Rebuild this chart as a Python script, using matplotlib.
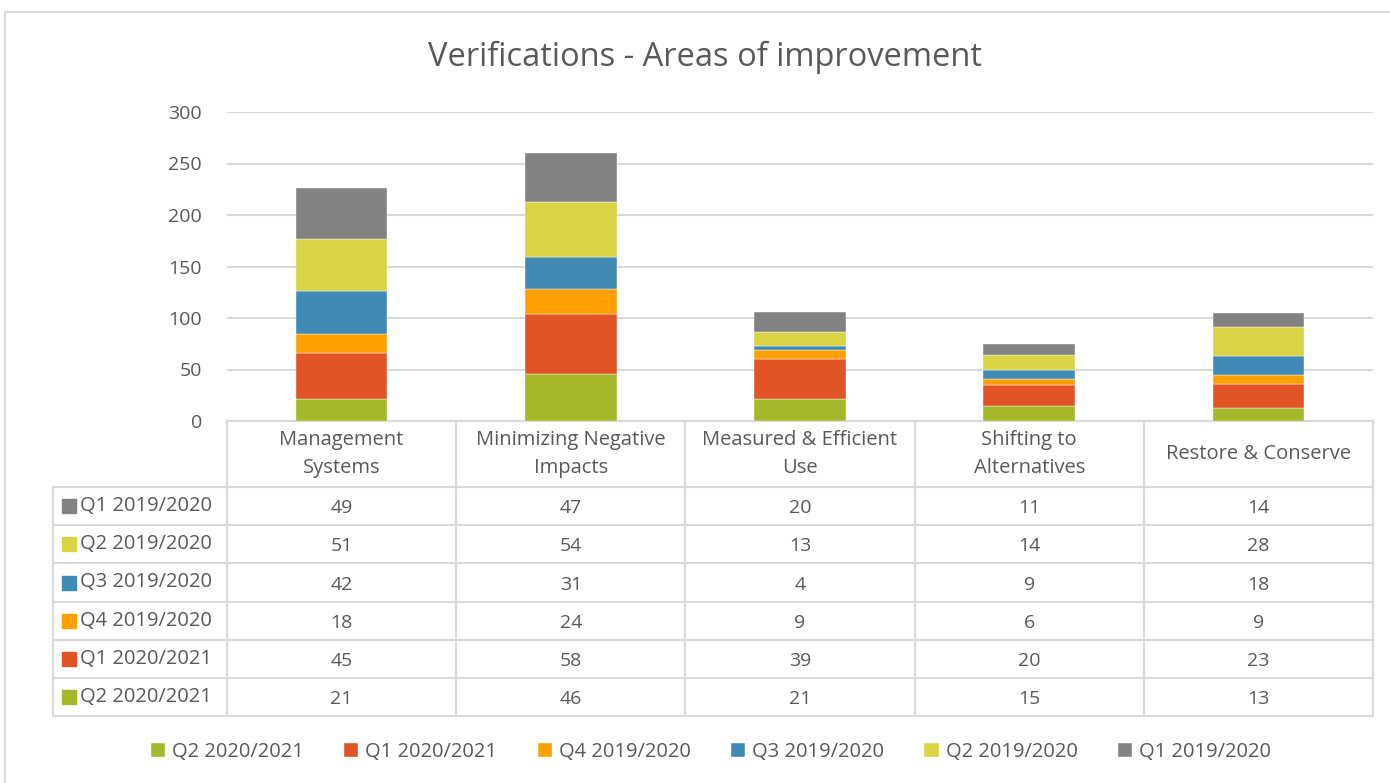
import matplotlib
matplotlib.use("Agg")
import matplotlib.pyplot as plt
import matplotlib.transforms as mtransforms
from matplotlib.patches import Rectangle
import numpy as np

# data
categories = [
    "Management\nSystems",
    "Minimizing Negative\nImpacts",
    "Measured & Efficient\nUse",
    "Shifting to\nAlternatives",
    "Restore & Conserve",
]

# stacking order, bottom to top
series_names = [
    "Q2 2020/2021",
    "Q1 2020/2021",
    "Q4 2019/2020",
    "Q3 2019/2020",
    "Q2 2019/2020",
    "Q1 2019/2020",
]
q2_2020 = [21, 46, 21, 15, 13]
q1_2020 = [45, 58, 39, 20, 23]
q4_2019 = [18, 24, 9, 6, 9]
q3_2019 = [42, 31, 4, 9, 18]
q2_2019 = [51, 54, 13, 14, 28]
q1_2019 = [49, 47, 20, 11, 14]
series_values = [q2_2020, q1_2020, q4_2019, q3_2019, q2_2019, q1_2019]

colors = ["#A5B72A", "#E05426", "#FF9F00", "#418AB3", "#D9D446", "#828282"]

TXT = "#595959"
GRID = "#D9D9D9"
W, H = 1390, 783

plt.rcParams["font.family"] = ["Open Sans", "DejaVu Sans"]

fig = plt.figure(figsize=(W / 100, H / 100), dpi=100)

# outer chart border
fig.patches.append(Rectangle(
    (5 / W, -0.01), 1.02, 1 - 12 / H + 0.01,
    transform=fig.transFigure, fill=False, edgecolor=GRID, linewidth=1.5
))

ax_left, ax_right = 227, 1373
ax_top, ax_bottom = 112, 421
ax = fig.add_axes([
    ax_left / W,
    1 - ax_bottom / H,
    (ax_right - ax_left) / W,
    (ax_bottom - ax_top) / H,
])

x = np.arange(len(categories))
bottom = np.zeros(len(categories))
for name, vals, col in zip(series_names, series_values, colors):
    ax.bar(x, vals, width=0.4, bottom=bottom, color=col, label=name,
           edgecolor="white", linewidth=0.3, zorder=3)
    bottom += np.array(vals)

ax.set_xlim(-0.5, len(categories) - 0.5)
ax.set_ylim(0, 300)
ax.set_yticks(range(0, 301, 50))
ax.yaxis.grid(True, color=GRID, linewidth=1.5, zorder=0)
ax.set_xticks([])
for s in ax.spines.values():
    s.set_visible(False)
ax.tick_params(axis="y", length=0, pad=18, labelsize=14, labelcolor=TXT)

fig.text(705 / W, 1 - 57 / H, "Verifications - Areas of improvement",
         ha="center", va="center", fontsize=23.5, color=TXT)

# data table under the axis
tr = mtransforms.blended_transform_factory(ax.transData, ax.transAxes)
ax_h = ax_bottom - ax_top
col_w = (ax_right - ax_left) / len(categories)


def ya(p):
    return (ax_bottom - p) / ax_h


def xd(p):
    return -0.5 + (p - ax_left) / col_w


row_edges = [421, 487, 525, 563, 602, 640, 678, 716]
label_left = xd(53)
right = len(categories) - 0.5
line_kw = dict(color=GRID, linewidth=1.5, transform=tr, clip_on=False)

ax.plot([-0.5, right], [ya(row_edges[0])] * 2, **line_kw)
for p in row_edges[1:]:
    ax.plot([label_left, right], [ya(p)] * 2, **line_kw)
for c in np.arange(-0.5, right + 0.01, 1.0):
    ax.plot([c, c], [ya(row_edges[0]), ya(row_edges[-1])], **line_kw)
ax.plot([label_left, label_left], [ya(row_edges[1]), ya(row_edges[-1])], **line_kw)

head_mid = ya((row_edges[0] + row_edges[1]) / 2)
for i, cat in enumerate(categories):
    ax.text(i, head_mid, cat, transform=tr, ha="center", va="center",
            fontsize=14.5, color=TXT, linespacing=1.5)

# table rows go top series first
for r, idx in enumerate(reversed(range(len(series_names)))):
    mid = ya((row_edges[r + 1] + row_edges[r + 2]) / 2)
    ax.plot([xd(69)], [mid], marker="s", markersize=10, color=colors[idx],
            transform=tr, clip_on=False)
    ax.text(xd(80), mid, series_names[idx], transform=tr, ha="left",
            va="center", fontsize=14.5, color=TXT)
    for i, v in enumerate(series_values[idx]):
        ax.text(i, mid - 0.008, str(v), transform=tr, ha="center",
                va="center", fontsize=14, color=TXT)

handles, labels = ax.get_legend_handles_labels()
fig.legend(handles, labels, loc="center", ncol=6,
           bbox_to_anchor=(711 / W, 1 - 752 / H), frameon=False,
           fontsize=14.5, labelcolor=TXT, handlelength=0.7, handleheight=0.7,
           handletextpad=0.35, columnspacing=2.0)

fig.savefig("out.png", dpi=100, facecolor="white")
